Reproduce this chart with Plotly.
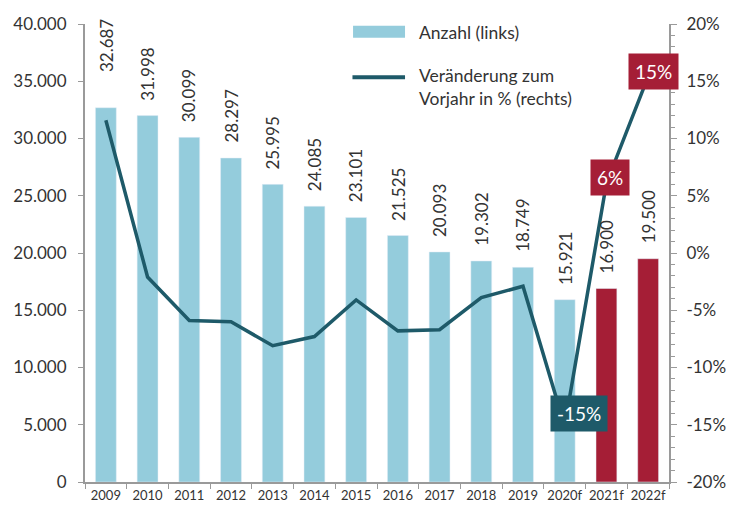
import plotly.graph_objects as go

years = ["2009", "2010", "2011", "2012", "2013", "2014", "2015", "2016",
         "2017", "2018", "2019", "2020f", "2021f", "2022f"]
anzahl = [32687, 31998, 30099, 28297, 25995, 24085, 23101, 21525,
          20093, 19302, 18749, 15921, 16900, 19500]
veraenderung = [11.6, -2.1, -5.9, -6.0, -8.1, -7.3, -4.1, -6.8,
                -6.7, -3.9, -2.9, -15.1, 6.1, 15.4]
bar_colors = ["#94CCDC"] * 12 + ["#A51E36"] * 2
right_ticks = [-20, -15, -10, -5, 0, 5, 10, 15, 20]
right_labels = ["-20%", "-15%", "-10%", "-5%", "0%", "5%", "10%", "15%", "20%"]
left_ticks = [0, 5000, 10000, 15000, 20000, 25000, 30000, 35000, 40000]

FONT = "Lato"
TXT = "#333333"
AX = "#9a9a9a"
LINE = "#1E5A69"

fig = go.Figure()
fig.add_trace(go.Bar(
    x=years, y=anzahl, marker_color=bar_colors, width=0.5,
    showlegend=False,
))
fig.add_trace(go.Scatter(
    x=years, y=veraenderung, yaxis="y2", mode="lines",
    line=dict(color=LINE, width=3.5), showlegend=False,
))

# value labels above bars (x given as category index)
for i, v in enumerate(anzahl):
    fig.add_annotation(x=i, y=v, xref="x", yref="y", yanchor="bottom",
                       text=f"{v:,}".replace(",", "."), textangle=-90,
                       showarrow=False, yshift=34 if i == 0 else 13,
                       font=dict(family=FONT, size=17, color=TXT))

# labelled boxes
boxes = [(11, veraenderung[11], "-15%", LINE, 14, 12),
         (12, veraenderung[12], "6%", "#A51E36", 4, 6),
         (13, veraenderung[13], "15%", "#A51E36", 5, 5)]
for x, y, t, c, xs, ys in boxes:
    fig.add_annotation(x=x, y=y, xref="x", yref="y2", text=t, showarrow=False,
                       xshift=xs, yshift=ys, bgcolor=c, borderpad=6,
                       font=dict(family=FONT, size=19, color="white"))

# manual legend
fig.add_shape(type="rect", xref="paper", yref="paper",
              x0=0.459, x1=0.548, y0=0.970, y1=0.996,
              fillcolor="#94CCDC", line_width=0)
fig.add_annotation(xref="paper", yref="paper", x=0.568, y=0.981,
                   xanchor="left", yanchor="middle",
                   text="Anzahl (links)", showarrow=False,
                   font=dict(family=FONT, size=17.5, color=TXT))
fig.add_shape(type="line", xref="paper", yref="paper",
              x0=0.458, x1=0.548, y0=0.884, y1=0.884,
              line=dict(color=LINE, width=4))
fig.add_annotation(xref="paper", yref="paper", x=0.568, y=0.862,
                   xanchor="left", yanchor="middle",
                   align="left", text="Veränderung zum<br>Vorjahr in % (rechts)",
                   showarrow=False, font=dict(family=FONT, size=17.5, color=TXT))

fig.update_layout(
    width=732, height=501,
    margin=dict(l=77, r=71, t=16, b=27),
    paper_bgcolor="white", plot_bgcolor="white",
    font=dict(family=FONT, color=TXT),
    bargap=0.5,
    xaxis=dict(type="category", range=[-0.5, len(years) - 0.5],
               showline=True, linecolor=AX, linewidth=2,
               ticks="outside", tickson="boundaries", ticklen=5, tickcolor=AX,
               tickfont=dict(size=13), tickangle=0, showgrid=False,
               automargin=False),
    yaxis=dict(range=[0, 40000], tickvals=left_ticks,
               ticktext=[f"{t:,}".replace(",", ".") for t in left_ticks],
               showline=True, linecolor=AX, linewidth=2, ticks="outside",
               ticklen=5, tickcolor=AX, showgrid=False, zeroline=False,
               tickfont=dict(size=17), ticklabelstandoff=8, automargin=False),
    yaxis2=dict(range=[-20, 20], overlaying="y", side="right",
                tickvals=right_ticks, ticktext=right_labels,
                showline=True, linecolor=AX, linewidth=2, ticks="outside",
                ticklen=6, tickcolor=AX, showgrid=False, zeroline=False,
                tickfont=dict(size=17), ticklabelstandoff=6, automargin=False,
                minor=dict(dtick=1, ticks="outside", ticklen=4, tickcolor=AX)),
)

fig.write_html("out.html")
